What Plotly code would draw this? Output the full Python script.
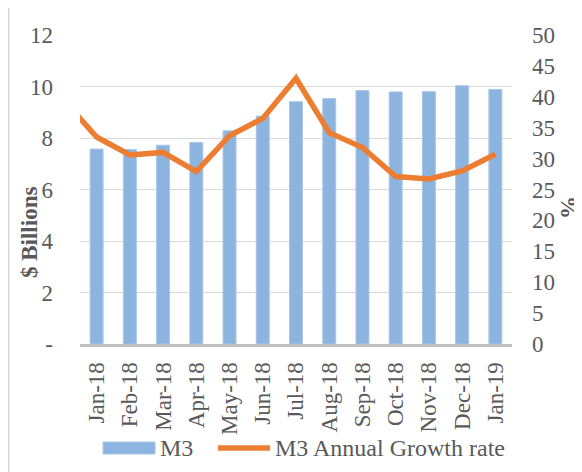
import plotly.graph_objects as go

months = ["Jan-18", "Feb-18", "Mar-18", "Apr-18", "May-18", "Jun-18", "Jul-18",
          "Aug-18", "Sep-18", "Oct-18", "Nov-18", "Dec-18", "Jan-19"]
m3_billions = [7.57, 7.55, 7.72, 7.83, 8.28, 8.85, 9.41, 9.53, 9.84, 9.79, 9.80, 10.03, 9.88]
# growth series starts one month earlier (Dec-17), clipped at the axis edge
growth_months = ["Dec-17"] + months
growth_pct = [39.5, 33.5, 30.6, 31.0, 27.9, 33.7, 36.5, 43.0, 34.2, 31.8, 27.1, 26.7, 28.0, 30.7]
left_ticks = [0, 2, 4, 6, 8, 10, 12]
left_ticktext = ["-", "2", "4", "6", "8", "10", "12"]
right_ticks = [0, 5, 10, 15, 20, 25, 30, 35, 40, 45, 50]
series_names = ["M3", "M3 Annual Growth rate"]

FONT = "Liberation Serif, Times New Roman, serif"
GREY = "#595959"
BAR_COLOR = "#8cb4df"
LINE_COLOR = "#ED7D31"
FS = 23

# page body has an 8px margin: lay out in screen pixels, offset by 8
OFF = 8
W, H = 582 - OFF, 472 - OFF
ML, MR, MT, MB = 80 - OFF, 70, 35 - OFF, 128
pw = W - ML - MR
ph = H - MT - MB


def px(x):
    return (x - OFF - ML) / pw


def py(y):
    return (H - MB - (y - OFF)) / ph


xb = list(range(len(months)))
xl = list(range(-1, len(months)))

fig = go.Figure()
fig.add_trace(go.Bar(
    x=xb, y=m3_billions, name=series_names[0], showlegend=False,
    marker=dict(color=BAR_COLOR, line=dict(color="#a8c7e9", width=1)),
    width=0.39,
))
fig.add_trace(go.Scatter(
    x=xl, y=growth_pct, name=series_names[1], yaxis="y2", showlegend=False,
    mode="lines", line=dict(color=LINE_COLOR, width=5.5),
))

tf = dict(family=FONT, size=FS, color=GREY)
lf = dict(family=FONT, size=24, color=GREY)
fig.update_layout(
    width=W, height=H,
    margin=dict(l=ML, r=MR, t=MT, b=MB),
    paper_bgcolor="white", plot_bgcolor="white",
    font=tf,
    xaxis=dict(range=[-0.5, len(months) - 0.5], tickvals=xb, ticktext=months,
               tickangle=-90, showgrid=False, showline=True, linecolor="#bfbfbf",
               linewidth=3, ticks="", zeroline=False, automargin=False,
               ticklabelstandoff=6, tickfont=tf),
    yaxis=dict(range=[0, 12], tickvals=left_ticks, ticktext=left_ticktext,
               showgrid=True, gridcolor="#d9d9d9", gridwidth=1, zeroline=False,
               ticks="", ticklabelstandoff=26, automargin=False, tickfont=tf),
    yaxis2=dict(range=[0, 50], tickvals=right_ticks, overlaying="y", side="right",
                showgrid=False, zeroline=False, ticks="", ticklabelstandoff=19,
                automargin=False, tickfont=tf),
    annotations=[
        dict(text="<b>$ Billions</b>", x=px(30), y=py(233), xref="paper", yref="paper",
             xanchor="center", yanchor="middle", showarrow=False, textangle=-90, font=tf),
        dict(text="<b>%</b>", x=px(568), y=py(208), xref="paper", yref="paper",
             xanchor="center", yanchor="middle", showarrow=False, textangle=-90, font=tf),
        dict(text=series_names[0], x=px(158), y=py(448), xref="paper", yref="paper",
             xanchor="left", yanchor="middle", showarrow=False, font=lf),
        dict(text=series_names[1], x=px(273), y=py(448), xref="paper", yref="paper",
             xanchor="left", yanchor="middle", showarrow=False, font=lf),
    ],
    shapes=[
        # chart border (only top/left visible)
        dict(type="line", xref="paper", yref="paper", x0=px(9), x1=px(600), y0=py(6.5), y1=py(6.5),
             line=dict(color="#d9d9d9", width=2)),
        dict(type="line", xref="paper", yref="paper", x0=px(8.5), x1=px(8.5), y0=py(6), y1=py(480),
             line=dict(color="#d9d9d9", width=2)),
        # legend symbols
        dict(type="rect", xref="paper", yref="paper", x0=px(103), x1=px(155), y0=py(442), y1=py(454),
             fillcolor=BAR_COLOR, line=dict(color="#a8c7e9", width=1)),
        dict(type="line", xref="paper", yref="paper", x0=px(218), x1=px(270), y0=py(448), y1=py(448),
             line=dict(color=LINE_COLOR, width=5.5)),
    ],
)

fig.write_html("out.html")
